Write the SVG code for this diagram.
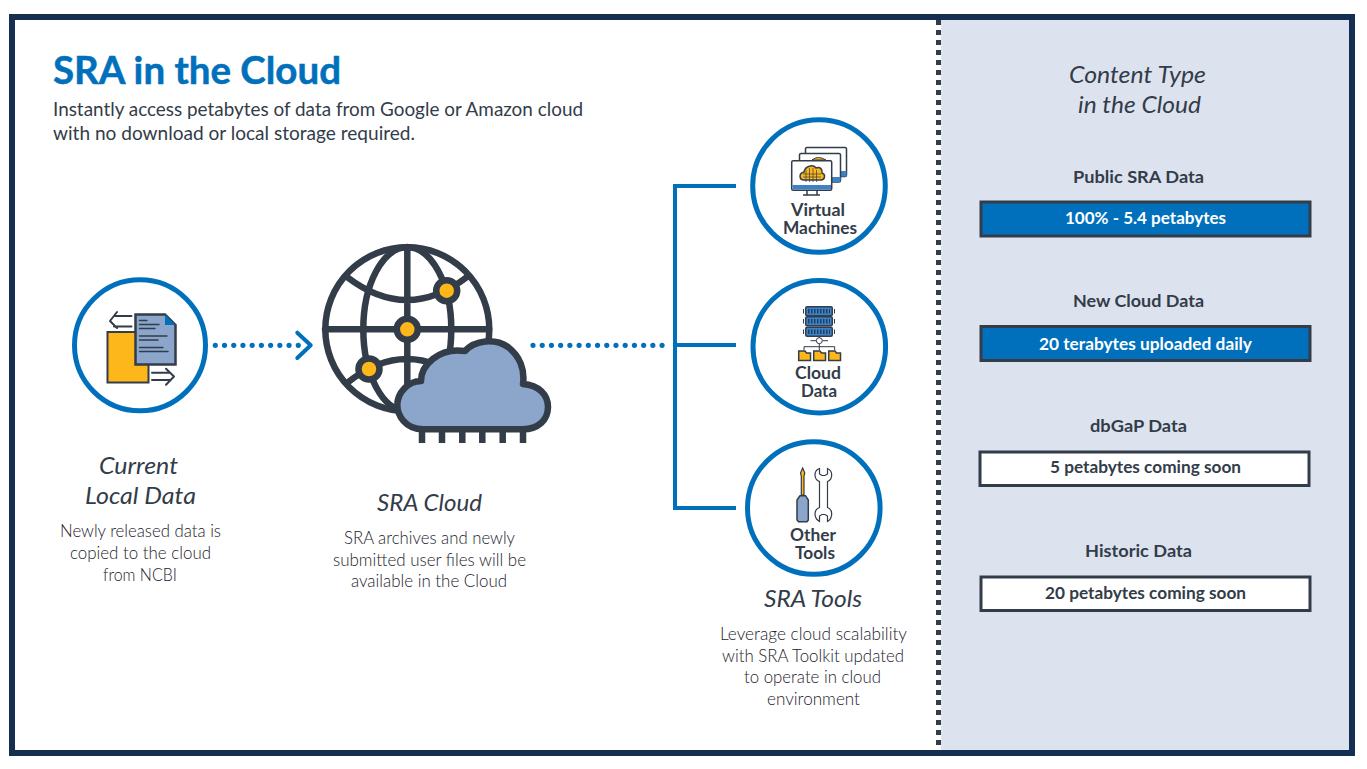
<svg xmlns="http://www.w3.org/2000/svg" width="1367" height="769" viewBox="0 0 1367 769">
<style>
text{font-family:"Lato","Noto Sans","Liberation Sans",sans-serif;fill:#333c49;text-anchor:middle}
.ttl{font-size:38px;font-weight:700;fill:#0070bc;stroke:#0070bc;stroke-width:.5px;text-anchor:start}
.sub{font-size:20px;text-anchor:start}
.hd{font-size:24px;font-style:italic}
.bd{font-size:17px;font-weight:300;fill:#1c222b}
.lb{font-size:16.5px;font-weight:700}
.bl{font-size:17px;font-weight:700}
.ring{fill:#fff;stroke:#0070bc;stroke-width:5}
.dk{fill:none;stroke:#333c49;stroke-linecap:round;stroke-linejoin:round}
.dots{fill:none;stroke:#0070bc;stroke-width:5.2;stroke-linecap:round;stroke-dasharray:0 9.22}
.conn{fill:none;stroke:#0070bc;stroke-width:4}
.y{fill:#fdb71a}.b{fill:#8ba5cb}.m{fill:#3f82c4}
.bar{stroke:#333c49;stroke-width:3}
.sd{fill:none;stroke:#1d3f6b;stroke-width:4.500;stroke-dasharray:1.500 1.500}
</style>
<rect width="1367" height="769" fill="#fff"/>
<g id="frame">
<rect x="941" y="20" width="408" height="730" fill="#dce3ef"/>
<rect x="12" y="17" width="1340" height="736" fill="none" stroke="#142f52" stroke-width="6"/>
<line x1="938.5" y1="20" x2="938.5" y2="750" stroke="#333c49" stroke-width="5" stroke-dasharray="5 5"/>
</g>
<g id="header">
<text class="ttl" x="53" y="83.500" textLength="288" lengthAdjust="spacingAndGlyphs">SRA in the Cloud</text>
<text class="sub" x="53" y="116" textLength="530" lengthAdjust="spacingAndGlyphs">Instantly access petabytes of data from Google or Amazon cloud</text>
<text class="sub" x="53" y="140" textLength="362" lengthAdjust="spacingAndGlyphs">with no download or local storage required.</text>
</g>
<g id="connectors">
<path class="dots" d="M215.3 345.3H300"/>
<path d="M297.3 332.7L310.7 345.3L297.3 358" fill="none" stroke="#0070bc" stroke-width="4" stroke-linecap="round" stroke-linejoin="round"/>
<path class="dots" d="M533 345.3H665"/>
<path class="conn" d="M736 186H675V508H736M675 345H736"/>
</g>
<g id="local-data">
<circle class="ring" cx="140" cy="345.3" r="65.5"/>
<rect class="y" x="107.5" y="332" width="41" height="50.5" stroke="#333c49" stroke-width="2"/>
<path class="b" d="M135.5 314.5H165L175.5 325V364.5H135.5Z" stroke="#333c49" stroke-width="2.5"/>
<path d="M165 314.5L175.5 325H165Z" fill="#0070bc"/>
<path class="dk" stroke-width="1.4" d="M139.5 320.5H147M139.5 324.5H159M139.5 328.5H155M139.5 336H167M139.5 340H158M139.5 347.5H163M139.5 351.5H168"/>
<path class="dk" stroke-width="2" d="M131.5 316H114M131.5 326.5H114M117 312L110 321L117 328M152 372.7H170M152 380H170M166 368.7L174 376.5L166 384.7"/>
<text class="hd" x="138.500" y="474" textLength="79" lengthAdjust="spacingAndGlyphs">Current</text>
<text class="hd" x="140.500" y="504" textLength="111" lengthAdjust="spacingAndGlyphs">Local Data</text>
<text class="bd" x="140.500" y="537" textLength="161" lengthAdjust="spacingAndGlyphs">Newly released data is</text>
<text class="bd" x="140.500" y="559" textLength="141" lengthAdjust="spacingAndGlyphs">copied to the cloud</text>
<text class="bd" x="140" y="581" textLength="74" lengthAdjust="spacingAndGlyphs">from NCBI</text>
</g>
<g id="sra-cloud">
<g class="dk" stroke-width="6.5">
<circle cx="407.300" cy="329.300" r="82"/>
<ellipse cx="407.300" cy="329.300" rx="44" ry="82"/>
<path d="M407.300 247V411M325 329.300H489M347 277Q407 323 467 277M347 383Q407 335 467 383"/>
</g>
<g stroke="#333c49" stroke-width="6.500" class="y">
<circle cx="446.700" cy="290.700" r="10.500"/><circle cx="407.300" cy="329.300" r="10.500"/><circle cx="369" cy="369" r="10.500"/>
</g>
<path class="b" stroke="#333c49" stroke-width="6.500" stroke-linejoin="round" d="M423 429.300C405 429 397.300 415 397.300 405C397.300 393 408 381 421 381C421 366 438 347 465 351C475 340 495 338 508 347C520 356 525 370 523 384C539 385 548 395 548 407C548 420 538 429.300 523 429.300Z"/>
<path d="M422 431V443M442 431V443M462.300 431V443M482.300 431V443M502.700 431V443M523 431V443" stroke="#333c49" stroke-width="6.500" fill="none"/>
<text class="hd" x="429.500" y="511" textLength="105" lengthAdjust="spacingAndGlyphs">SRA Cloud</text>
<text class="bd" x="429.500" y="544" textLength="171" lengthAdjust="spacingAndGlyphs">SRA archives and newly</text>
<text class="bd" x="429.500" y="566" textLength="193" lengthAdjust="spacingAndGlyphs">submitted user files will be</text>
<text class="bd" x="429" y="587" textLength="156" lengthAdjust="spacingAndGlyphs">available in the Cloud</text>
</g>
<g id="virtual-machines">
<circle class="ring" cx="819" cy="186" r="66.300"/>
<g stroke="#333c49" stroke-width="1.500" fill="#fff">
<rect x="805.500" y="147.500" width="41" height="29" rx="1.500"/>
<rect class="m" x="840.500" y="171" width="6" height="5.500" stroke="none"/>
<rect x="799.500" y="153.500" width="41" height="28.500" rx="1.500"/>
<rect class="m" x="831" y="177" width="9.500" height="5" stroke="none"/>
<path class="y" d="M812 160Q818 155 826 160Z" stroke-width="1"/>
<rect x="791.700" y="160.700" width="40" height="29.500" rx="1.500"/>
<rect class="m" x="792.500" y="185" width="38.500" height="4.500" stroke="none"/>
<path d="M807 190V195M817 190V195M803 195H820" fill="none"/>
<path class="y" d="M804 180C799 180 798.500 173 804 172C805 166 813 164 816 168C820 166 823 170 822 173C826 174 825 180 821 180Z"/>
</g>
<path d="M806 170V182M809.500 168V182M813 168V182M816.500 170V182M803 174H821M803 177H821" stroke="#333c49" stroke-width=".7" fill="none"/>
<text class="lb" x="818" y="215.500" textLength="54" lengthAdjust="spacingAndGlyphs">Virtual</text>
<text class="lb" x="820" y="233.500" textLength="74" lengthAdjust="spacingAndGlyphs">Machines</text>
</g>
<g id="cloud-data">
<circle class="ring" cx="819.300" cy="346.700" r="66.300"/>
<g stroke="#333c49" stroke-width="1.500">
<rect class="m" x="805.700" y="306.700" width="26.600" height="9" rx="1.500"/>
<rect class="m" x="805.700" y="316.700" width="26.600" height="9" rx="1.500"/>
<rect class="m" x="805.700" y="327.300" width="26.600" height="9" rx="1.500"/>
<path class="sd" d="M808 311.200H830M808 321.200H830M808 331.800H830"/>
<path d="M803.500 309V313.500M803.500 319V323.500M803.500 329.500V334M834.500 309V313.500M834.500 319V323.500M834.500 329.500V334" fill="none" stroke-width="1"/>
<path d="M819.300 336.500V338M810.500 340.700H816M822.500 340.700H828M819.300 344V346.700M804 350V346.700H834.700V350M819.300 346.700V350" fill="none" stroke-width="1"/>
<circle cx="819.300" cy="340.700" r="3" fill="#fff" stroke-width="1"/>
<g class="y"><path d="M798.700 351H805L806.500 353H810.500V360.500H798.700Z"/><path d="M813.700 351H820L821.500 353H825.500V360.500H813.700Z"/><path d="M828.700 351H835L836.500 353H840.500V360.500H828.700Z"/></g>
</g>
<text class="lb" x="818" y="378.500" textLength="46" lengthAdjust="spacingAndGlyphs">Cloud</text>
<text class="lb" x="819" y="396.500" textLength="36" lengthAdjust="spacingAndGlyphs">Data</text>
</g>
<g id="other-tools">
<circle class="ring" cx="813.800" cy="508" r="66.300"/>
<path class="b" d="M800 495.700H805.500L808.300 500V520L807 521.700H798.500L797 520V500Z" stroke="#333c49" stroke-width="1.500"/>
<path class="y" d="M801.300 495V476L800.500 473L802.700 468L804.800 473L804 476V495Z" stroke="#333c49" stroke-width="1.200"/>
<path d="M819.500 468.500C816.500 469.500 815 472 815 475C815 478 817 480.500 819.500 481.500V507.500C817 508.500 815 511 815 514C815 517.500 817 520 819.500 521.500V516L822 514.500H825L827.500 516V521.500C830 520 831.700 517.500 831.700 514C831.700 511 830 508.500 827.500 507.500V481.500C830 480.500 831.700 478 831.700 475C831.700 472 830 469.500 827.500 468.500V474L825 475.500H822L819.500 474Z" fill="#fff" stroke="#333c49" stroke-width="1.200"/>
<text class="lb" x="813" y="540.500" textLength="46" lengthAdjust="spacingAndGlyphs">Other</text>
<text class="lb" x="815" y="558.500" textLength="40" lengthAdjust="spacingAndGlyphs">Tools</text>
<text class="hd" x="813" y="607" textLength="98" lengthAdjust="spacingAndGlyphs">SRA Tools</text>
<text class="bd" x="813.500" y="640" textLength="187" lengthAdjust="spacingAndGlyphs">Leverage cloud scalability</text>
<text class="bd" x="813" y="662" textLength="182" lengthAdjust="spacingAndGlyphs">with SRA Toolkit updated</text>
<text class="bd" x="812.500" y="683" textLength="137" lengthAdjust="spacingAndGlyphs">to operate in cloud</text>
<text class="bd" x="813.500" y="705" textLength="93" lengthAdjust="spacingAndGlyphs">environment</text>
</g>
<g id="content-type">
<text class="hd" x="1137.500" y="83" textLength="137" lengthAdjust="spacingAndGlyphs">Content Type</text>
<text class="hd" x="1139.500" y="113" textLength="123" lengthAdjust="spacingAndGlyphs">in the Cloud</text>
</g>
<g id="public-sra">
<text class="bl" x="1138.500" y="183" textLength="131" lengthAdjust="spacingAndGlyphs">Public SRA Data</text>
<rect class="bar" x="981" y="202" width="329" height="34" fill="#0070bc"/>
<text class="bl" x="1145.500" y="224" textLength="161" lengthAdjust="spacingAndGlyphs" style="fill:#fff">100% - 5.4 petabytes</text>
</g>
<g id="new-cloud">
<text class="bl" x="1138.500" y="307" textLength="131" lengthAdjust="spacingAndGlyphs">New Cloud Data</text>
<rect class="bar" x="981" y="326.500" width="329" height="34" fill="#0070bc"/>
<text class="bl" x="1145.500" y="349.500" textLength="213" lengthAdjust="spacingAndGlyphs" style="fill:#fff">20 terabytes uploaded daily</text>
</g>
<g id="dbgap">
<text class="bl" x="1138.500" y="431.500" textLength="97" lengthAdjust="spacingAndGlyphs">dbGaP Data</text>
<rect class="bar" x="980" y="452" width="329" height="33.500" fill="#fff"/>
<text class="bl" x="1145.500" y="473" textLength="191" lengthAdjust="spacingAndGlyphs">5 petabytes coming soon</text>
</g>
<g id="historic">
<text class="bl" x="1138.500" y="556.500" textLength="107" lengthAdjust="spacingAndGlyphs">Historic Data</text>
<rect class="bar" x="981" y="577" width="329" height="33.500" fill="#fff"/>
<text class="bl" x="1145.500" y="599" textLength="201" lengthAdjust="spacingAndGlyphs">20 petabytes coming soon</text>
</g>
</svg>
